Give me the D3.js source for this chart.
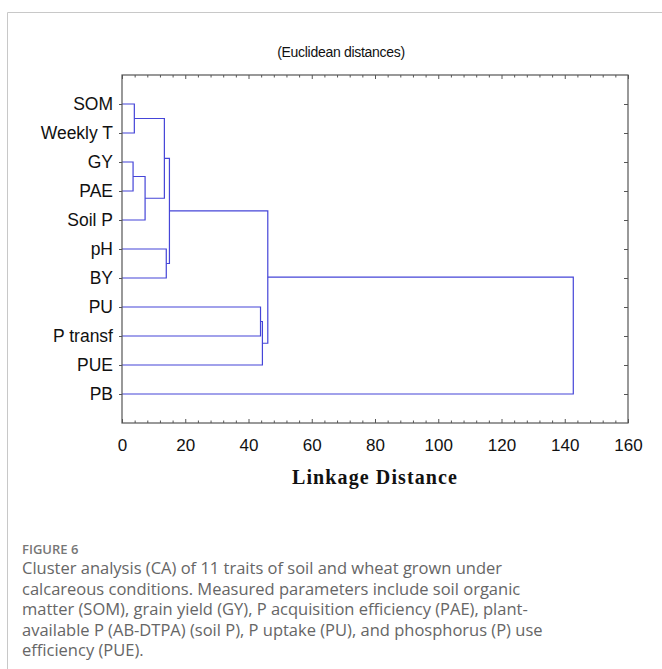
<!DOCTYPE html>
<html>
<head>
<meta charset="utf-8">
<script src="https://cdn.jsdelivr.net/npm/d3@7"></script>
<style>
  html, body { margin: 0; padding: 0; background: #fff; }
  svg { display: block; }
</style>
</head>
<body>
<svg id="chart" width="662" height="669"></svg>
<script>
// ---- data ----
const leafLabels = ["SOM", "Weekly T", "GY", "PAE", "Soil P", "pH", "BY", "PU", "P transf", "PUE", "PB"];
// linkage (scipy style): ids < 11 are leaves, id 11 + k is the cluster made at step k
const linkLeft     = [0, 2, 12, 11, 5, 14, 7, 17, 16, 19];
const linkRight    = [1, 3, 4, 13, 6, 15, 8, 9, 18, 10];
const linkDistance = [3.9, 3.5, 7.3, 13.4, 14.0, 15.0, 43.8, 44.4, 46.1, 142.7];
const xTicks = [0, 20, 40, 60, 80, 100, 120, 140, 160];
const titleText = "(Euclidean distances)";
const xAxisTitle = "Linkage Distance";
const figureLabel = "FIGURE 6";
const captionLines = [
  "Cluster analysis (CA) of 11 traits of soil and wheat grown under",
  "calcareous conditions. Measured parameters include soil organic",
  "matter (SOM), grain yield (GY), P acquisition efficiency (PAE), plant-",
  "available P (AB-DTPA) (soil P), P uptake (PU), and phosphorus (P) use",
  "efficiency (PUE)."
];

// ---- layout ----
const svg = d3.select("#chart");
const L = 122, R = 628, T = 75, B = 423;
const x = d3.scaleLinear().domain([0, 160]).range([L, R]);
const y = d3.scaleLinear().domain([0, 12]).range([T, B]);
const axisColor = "#555";
const lineColor = "#4545d8";
const n = leafLabels.length;

// card border
svg.append("path")
  .attr("d", `M7.5,669 V12.5 H662`)
  .attr("fill", "none").attr("stroke", "#c8c8c8").attr("stroke-width", 1);

// title
svg.append("text")
  .attr("x", 341).attr("y", 57)
  .attr("text-anchor", "middle")
  .attr("font-family", "Liberation Sans, Arial, sans-serif")
  .attr("font-size", 14).attr("fill", "#111")
  .attr("letter-spacing", "-0.3")
  .text(titleText);

// nodes: position (leaf order index, 1-based) and height
const nodePos = leafLabels.map((d, i) => i + 1);
const nodeH = leafLabels.map(() => 0);
linkLeft.forEach((a, k) => {
  const b = linkRight[k];
  nodePos.push((nodePos[a] + nodePos[b]) / 2);
  nodeH.push(linkDistance[k]);
});

// dendrogram links
const g = svg.append("g");
linkLeft.forEach((a, k) => {
  const b = linkRight[k];
  const h = linkDistance[k];
  const p = d3.path();
  p.moveTo(x(nodeH[a]), y(nodePos[a]));
  p.lineTo(x(h), y(nodePos[a]));
  p.lineTo(x(h), y(nodePos[b]));
  p.lineTo(x(nodeH[b]), y(nodePos[b]));
  g.append("path").attr("d", p.toString())
    .attr("fill", "none").attr("stroke", lineColor).attr("stroke-width", 1.2);
});

// minor ticks every 4
const minor = d3.range(0, 161, 4).filter(v => v % 20 !== 0);
const fontAxis = "Liberation Sans, Arial, sans-serif";

function styleAxis(sel) {
  sel.select(".domain").remove();
  sel.selectAll(".tick line").attr("stroke", axisColor);
  sel.selectAll("text").attr("font-family", fontAxis).attr("font-size", 17).attr("fill", "#111");
}

// bottom axis (inward ticks)
svg.append("g").attr("transform", `translate(0,${B})`)
  .call(d3.axisBottom(x).tickValues(xTicks).tickSizeInner(-4).tickSizeOuter(0).tickPadding(16).tickFormat(d3.format("d")))
  .call(styleAxis);
svg.append("g").attr("transform", `translate(0,${B})`)
  .call(d3.axisBottom(x).tickValues(minor).tickSizeInner(-2.5).tickSizeOuter(0).tickFormat(""))
  .call(styleAxis);
// top axis (inward ticks)
svg.append("g").attr("transform", `translate(0,${T})`)
  .call(d3.axisTop(x).tickValues(xTicks).tickSizeInner(-4).tickSizeOuter(0).tickFormat(""))
  .call(styleAxis);
svg.append("g").attr("transform", `translate(0,${T})`)
  .call(d3.axisTop(x).tickValues(minor).tickSizeInner(-2.5).tickSizeOuter(0).tickFormat(""))
  .call(styleAxis);
// left axis with labels (outward ticks)
svg.append("g").attr("transform", `translate(${L},0)`)
  .call(d3.axisLeft(y).tickValues(d3.range(1, n + 1)).tickSizeInner(3).tickSizeOuter(0).tickPadding(6)
    .tickFormat(d => leafLabels[d - 1]))
  .call(styleAxis)
  .call(s => s.selectAll("text").attr("font-size", 17.5));
// right axis (inward ticks)
svg.append("g").attr("transform", `translate(${R},0)`)
  .call(d3.axisRight(y).tickValues(d3.range(1, n + 1)).tickSizeInner(-4).tickSizeOuter(0).tickFormat(""))
  .call(styleAxis);

// frame
svg.append("rect")
  .attr("x", L).attr("y", T).attr("width", R - L).attr("height", B - T)
  .attr("fill", "none").attr("stroke", axisColor).attr("stroke-width", 1.2);

// axis title
svg.append("text")
  .attr("x", 375).attr("y", 484)
  .attr("text-anchor", "middle")
  .attr("font-family", "Liberation Serif, DejaVu Serif, serif")
  .attr("font-weight", "bold").attr("font-size", 20).attr("fill", "#111")
  .attr("letter-spacing", "1.1")
  .text(xAxisTitle);

// caption
svg.append("text")
  .attr("x", 22).attr("y", 554)
  .attr("font-family", "Open Sans, Noto Sans, sans-serif")
  .attr("font-weight", 600).attr("font-size", 13).attr("fill", "#777")
  .text(figureLabel);
captionLines.forEach((t, i) => {
  svg.append("text")
    .attr("x", 22).attr("y", 574 + i * 20.5)
    .attr("font-family", "Open Sans, Noto Sans, sans-serif")
    .attr("font-size", 16.5).attr("fill", "#666")
    .text(t);
});
</script>
</body>
</html>
